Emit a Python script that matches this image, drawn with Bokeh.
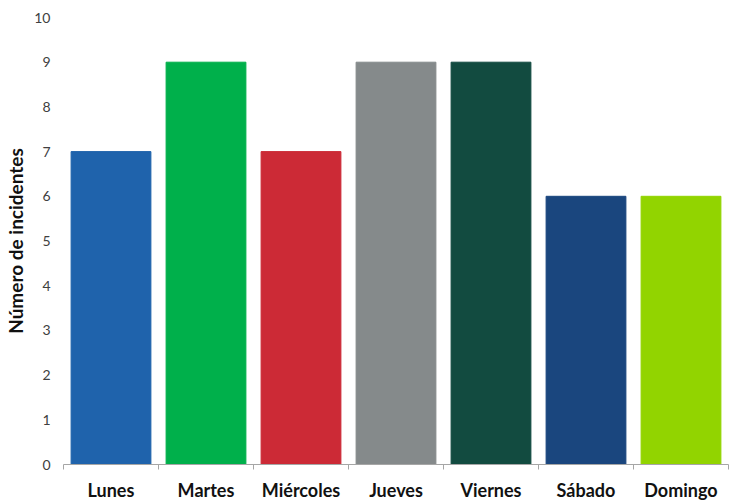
import numpy as np
from bokeh.plotting import figure
from bokeh.models import FixedTicker, Range1d, ColumnDataSource
from bokeh.embed import file_html
from bokeh.resources import INLINE

days = ["Lunes", "Martes", "Miércoles", "Jueves", "Viernes", "Sábado", "Domingo"]
incidents = [7, 9, 7, 9, 9, 6, 6]
colors = ["#1F63AC", "#00B04B", "#CC2A36", "#858A8B", "#124B40", "#1A467E", "#92D400"]
y_ticks = [0, 1, 2, 3, 4, 5, 6, 7, 8, 9, 10]

pos = [i + 0.5 for i in range(len(days))]
src = ColumnDataSource(dict(x=pos, top=incidents, color=colors, day=days))

p = figure(width=730, height=503, output_backend="svg", toolbar_location=None,
           x_range=Range1d(0, len(days)), y_range=Range1d(0, 10),
           min_border_left=63, min_border_top=17, min_border_right=2, min_border_bottom=39)
p.outline_line_color = None
p.xgrid.visible = False
p.ygrid.visible = False

p.vbar(x="x", top="top", width=0.84, color="color", source=src)

xa = p.xaxis[0]
xa.ticker = FixedTicker(ticks=pos, minor_ticks=list(range(len(days) + 1)))
xa.major_label_overrides = {x: d for x, d in zip(pos, days)}
xa.major_tick_line_color = None
xa.major_tick_out = 0
xa.major_tick_in = 0
xa.minor_tick_out = 5
xa.minor_tick_in = 0
xa.minor_tick_line_color = "#A6A6A6"
xa.axis_line_color = "#A6A6A6"
xa.major_label_text_font = "Lato"
xa.major_label_text_font_style = "bold"
xa.major_label_text_font_size = "18px"
xa.major_label_text_color = "#111111"
xa.major_label_standoff = 9

ya = p.yaxis[0]
ya.ticker = FixedTicker(ticks=y_ticks)
ya.axis_line_color = None
ya.major_tick_line_color = None
ya.minor_tick_line_color = None
ya.major_tick_out = 0
ya.major_tick_in = 0
ya.major_label_text_font = "Lato"
ya.major_label_text_font_size = "14px"
ya.major_label_text_color = "#404040"
ya.major_label_standoff = 13
ya.axis_label = "Número de incidentes"
ya.axis_label_text_font = "Lato"
ya.axis_label_text_font_style = "bold"
ya.axis_label_text_font_size = "19px"
ya.axis_label_text_color = "#111111"
ya.axis_label_standoff = 4

open("out.html", "w").write(file_html(p, INLINE))
